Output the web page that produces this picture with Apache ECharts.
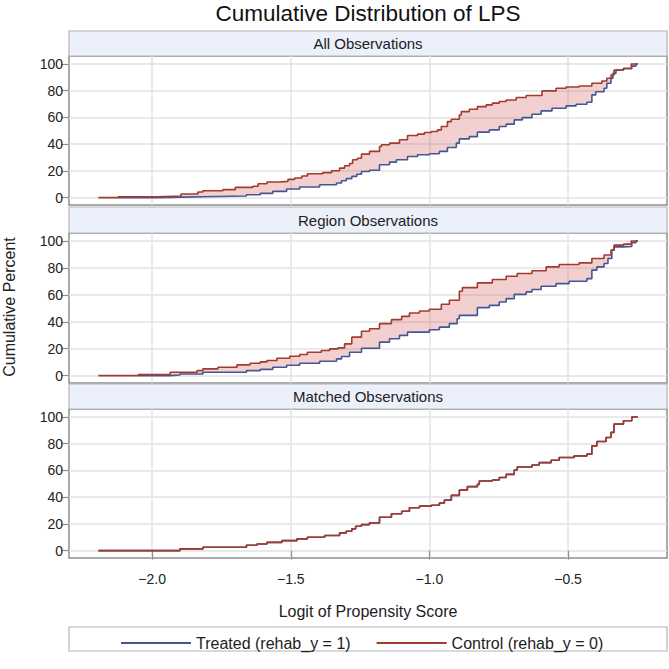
<!DOCTYPE html>
<html><head><meta charset="utf-8">
<script src="https://cdn.jsdelivr.net/npm/echarts@6/dist/echarts.min.js"></script>
<style>html,body{margin:0;padding:0;background:#fff}#c{width:669px;height:669px}</style>
</head><body><div id="c"></div>
<script>
const chartTitle = 'Cumulative Distribution of LPS';
const panelTitles = ['All Observations', 'Region Observations', 'Matched Observations'];
const seriesNames = ['Treated (rehab_y = 1)', 'Control (rehab_y = 0)'];
const xTicks = [-2.0, -1.5, -1.0, -0.5];
const yTicks = [0, 20, 40, 60, 80, 100];
const xAxisTitle = 'Logit of Propensity Score';
const yAxisTitle = 'Cumulative Percent';

// Panel 1: All Observations
const allTreatedX = [-2.122,-1.982,-1.896,-1.817,-1.66,-1.61,-1.565,-1.515,-1.468,-1.396,-1.335,-1.317,-1.30,-1.28,-1.262,-1.245,-1.216,-1.18,-1.144,-1.119,-1.079,-1.043,-1.0,-0.964,-0.935,-0.903,-0.892,-0.856,-0.827,-0.784,-0.748,-0.723,-0.694,-0.665,-0.63,-0.597,-0.558,-0.507,-0.471,-0.432,-0.414,-0.40,-0.37,-0.36,-0.345,-0.338,-0.327,-0.30,-0.27,-0.255,-0.248];
const allTreatedY = [0,0.4,0.7,1.2,2.2,3.2,4.7,6.5,8,9.7,11,12.7,14.2,15.9,17.5,19.6,20.5,24.6,26.6,28.4,30.8,32.1,32.8,34.6,37.5,40.8,44,45.7,49,50.7,53.2,55,58.2,59.9,62.4,64.9,66.9,68.7,69.9,71.4,76.9,79.3,81.9,85.6,89.3,93,95.5,96.5,98.4,100,100];
const allControlX = [-2.194,-2.122,-1.982,-1.896,-1.835,-1.817,-1.745,-1.70,-1.637,-1.618,-1.586,-1.54,-1.51,-1.486,-1.46,-1.44,-1.385,-1.353,-1.324,-1.306,-1.288,-1.277,-1.26,-1.245,-1.216,-1.18,-1.173,-1.144,-1.108,-1.079,-1.043,-1.018,-0.993,-0.971,-0.957,-0.935,-0.921,-0.892,-0.885,-0.856,-0.827,-0.795,-0.773,-0.748,-0.723,-0.687,-0.651,-0.594,-0.543,-0.507,-0.46,-0.414,-0.378,-0.36,-0.345,-0.334,-0.30,-0.272,-0.248];
const allControlY = [0,0.7,1.2,2.7,4.2,5.2,6,7.7,8.5,10.4,11.7,12.2,13.7,14.7,16.2,17.9,18.7,20.1,22.1,23.9,25.6,28.4,29.5,32.6,34.6,38.3,39.6,40.8,43.3,46.5,47.5,48.7,49.5,50.7,53.2,56.9,58.7,61.9,64.4,66.2,68.1,69.4,70.7,71.9,73.1,74.9,76.4,79.9,81.9,82.8,83.6,85.6,87.3,89.3,91.8,95.5,96.8,100,100];

// Panel 2: Region Observations
const regTreatedX = [-2.05,-1.935,-1.90,-1.817,-1.66,-1.61,-1.565,-1.515,-1.468,-1.396,-1.335,-1.317,-1.288,-1.245,-1.18,-1.144,-1.108,-1.079,-1.0,-0.964,-0.928,-0.9,-0.892,-0.827,-0.784,-0.748,-0.723,-0.694,-0.651,-0.63,-0.597,-0.543,-0.496,-0.432,-0.414,-0.396,-0.37,-0.356,-0.342,-0.334,-0.30,-0.27,-0.255,-0.248];
const regTreatedY = [0,0.5,1.2,2.5,3.7,4.6,6.2,7.7,9.2,10.7,12.4,14.2,17.4,20.3,24.9,27.4,29.9,32.3,34.1,36,38.6,42.3,44.8,50.5,52.2,54.7,57.2,60.4,62.2,64,66.4,68.4,70.1,72.1,78.4,80.8,83.3,87,93.3,95.7,96,98.8,100,100];
const regControlX = [-2.194,-2.05,-1.935,-1.838,-1.817,-1.763,-1.694,-1.647,-1.61,-1.586,-1.55,-1.504,-1.468,-1.44,-1.39,-1.36,-1.33,-1.306,-1.28,-1.245,-1.216,-1.18,-1.137,-1.10,-1.072,-1.036,-1.0,-0.957,-0.928,-0.892,-0.881,-0.827,-0.773,-0.723,-0.683,-0.63,-0.579,-0.532,-0.46,-0.414,-0.37,-0.345,-0.334,-0.30,-0.272,-0.248];
const regControlY = [0,0.7,2.5,3.7,5,6.2,8,9.2,10.2,11.2,12.9,14.4,15.7,17.4,18.7,19.9,20.6,23.6,28.6,33,34.8,38.6,41.6,44,46.5,48,49.3,53,56,62.7,65.4,68.9,71.4,73.9,75.9,77.9,80.8,82.6,83.8,87,89.6,93.3,97,97.7,100,100];

// Panel 3: Matched Observations (treated and control coincide)
const matchedX = [-2.194,-1.90,-1.817,-1.66,-1.622,-1.586,-1.532,-1.478,-1.44,-1.378,-1.324,-1.30,-1.28,-1.266,-1.245,-1.216,-1.18,-1.137,-1.10,-1.072,-1.036,-0.993,-0.964,-0.946,-0.921,-0.892,-0.863,-0.827,-0.82,-0.773,-0.748,-0.723,-0.694,-0.683,-0.63,-0.604,-0.561,-0.532,-0.478,-0.432,-0.414,-0.396,-0.363,-0.345,-0.334,-0.30,-0.27,-0.248];
const matchedY = [0,1.3,2.5,4,5,6.2,7.5,8.8,10,11.3,13.3,14.5,16.3,18.3,19.5,20.8,25,27.6,29.5,32.1,33.3,34,35.6,37.8,41.4,45.3,47.9,49.6,52.1,52.9,54.7,57.1,60.4,62.6,64.1,65.9,67.7,69.7,70.9,72.2,78.4,81.7,84.7,88.5,94.7,97.2,100,100];

const panels = [
  {tx: allTreatedX, ty: allTreatedY, cx: allControlX, cy: allControlY, band: true},
  {tx: regTreatedX, ty: regTreatedY, cx: regControlX, cy: regControlY, band: true},
  {tx: matchedX, ty: matchedY, cx: matchedX, cy: matchedY, band: false}
];

// ---------- layout / style ----------
const FONT = '"Liberation Sans", Arial, sans-serif';
const BLUE = '#445694', RED = '#A23A2E';
const PL = 69, PW = 598;
const grids = [
  {top: 56, height: 149, headTop: 31},
  {top: 233, height: 150, headTop: 207},
  {top: 409, height: 149, headTop: 384}
];
const CX = PL + PW / 2;

function zip(xs, ys) { return xs.map((x, i) => [x, ys[i]]); }
// vertices of a step function (value holds until the next x)
function stepPath(xs, ys) {
  const pts = [];
  for (let i = 0; i < xs.length; i++) {
    if (i > 0) pts.push([xs[i], ys[i - 1]]);
    pts.push([xs[i], ys[i]]);
  }
  return pts;
}
const fmt = v => (v < 0 ? '\u2212' : '') + Math.abs(v).toFixed(1);

const gridOpt = [], xAxes = [], yAxes = [], series = [], graphics = [];
grids.forEach((g, i) => {
  gridOpt.push({left: PL, top: g.top, width: PW, height: g.height, show: true,
    borderColor: '#8f8f8f', borderWidth: 1.5, backgroundColor: '#fff'});
  const last = i === grids.length - 1;
  xAxes.push({type: 'value', gridIndex: i, min: -2.3, max: -0.143,
    axisLine: {show: false},
    axisTick: {show: last, customValues: xTicks, length: 9, lineStyle: {color: '#8f8f8f', width: 1.2}},
    axisLabel: {show: last, customValues: xTicks, formatter: fmt, fontSize: 14, fontFamily: FONT, color: '#222', margin: 14},
    splitLine: {show: true, lineStyle: {color: '#e2e2e2', width: 1.5}},
    name: last ? xAxisTitle : '', nameLocation: 'middle', nameGap: 45,
    nameTextStyle: {fontSize: 16, fontFamily: FONT, color: '#222'}
  });
  yAxes.push({type: 'value', gridIndex: i, min: -5.5, max: 106,
    axisLine: {show: false},
    axisTick: {show: true, customValues: yTicks, length: 8, lineStyle: {color: '#8f8f8f', width: 1.2}},
    axisLabel: {customValues: yTicks, fontSize: 14, fontFamily: FONT, color: '#222', margin: 6},
    splitLine: {show: true, lineStyle: {color: '#e2e2e2', width: 1.5}},
    name: '', nameLocation: 'middle'
  });
  const p = panels[i];
  if (p.band) {
    const upper = stepPath(p.cx, p.cy);
    const lower = stepPath(p.tx, p.ty).reverse();
    const poly = upper.concat(lower);
    series.push({type: 'custom', name: 'band' + i, xAxisIndex: i, yAxisIndex: i, silent: true, z: 1,
      data: [[p.cx[0], p.cy[0]]],
      renderItem: (params, api) => ({
        type: 'polygon',
        shape: {points: poly.map(pt => api.coord(pt))},
        style: {fill: 'rgba(210,85,85,0.28)', stroke: 'none'}
      })
    });
  }
  series.push({type: 'line', name: seriesNames[0], xAxisIndex: i, yAxisIndex: i, step: 'end', symbol: 'none',
    color: BLUE, lineStyle: {color: BLUE, width: 1.6}, data: zip(p.tx, p.ty), z: 3});
  series.push({type: 'line', name: seriesNames[1], xAxisIndex: i, yAxisIndex: i, step: 'end', symbol: 'none',
    color: RED, lineStyle: {color: RED, width: 1.6}, data: zip(p.cx, p.cy), z: 4});
  // header strip
  const hh = g.top - g.headTop;
  graphics.push({type: 'rect', shape: {x: PL, y: g.headTop, width: PW, height: hh},
    style: {fill: '#ebf0fa', stroke: '#b4b4b4', lineWidth: 1.2}, silent: true});
  graphics.push({type: 'text', x: CX, y: g.headTop + hh / 2,
    style: {text: panelTitles[i], fill: '#222', fontSize: 15, fontFamily: FONT, align: 'center', verticalAlign: 'middle'}, silent: true});
});
graphics.push({type: 'text', x: CX, y: 13,
  style: {text: chartTitle, fill: '#111', fontSize: 22.5, fontFamily: FONT, align: 'center', verticalAlign: 'middle'}, silent: true});
// shared y-axis title, centered on the stacked panels
graphics.push({type: 'text', x: 9, y: (grids[0].top + grids[2].top + grids[2].height) / 2, rotation: Math.PI / 2,
  style: {text: yAxisTitle, fill: '#222', fontSize: 16, fontFamily: FONT, align: 'center', verticalAlign: 'middle'}, silent: true});
graphics.push({type: 'rect', shape: {x: PL, y: 627, width: PW, height: 24},
  style: {fill: '#fff', stroke: '#b4b4b4', lineWidth: 1.2}, silent: true, z: -1});

const chart = echarts.init(document.getElementById('c'), null, {renderer: 'svg'});
chart.setOption({
  animation: false,
  backgroundColor: '#fff',
  grid: gridOpt, xAxis: xAxes, yAxis: yAxes, series: series,
  legend: {data: seriesNames, top: 630, left: 116, itemWidth: 70, itemHeight: 2, itemGap: 26, icon: 'rect',
    textStyle: {fontSize: 16, fontFamily: FONT, color: '#222'}, selectedMode: false},
  graphic: graphics
});
</script></body></html>
